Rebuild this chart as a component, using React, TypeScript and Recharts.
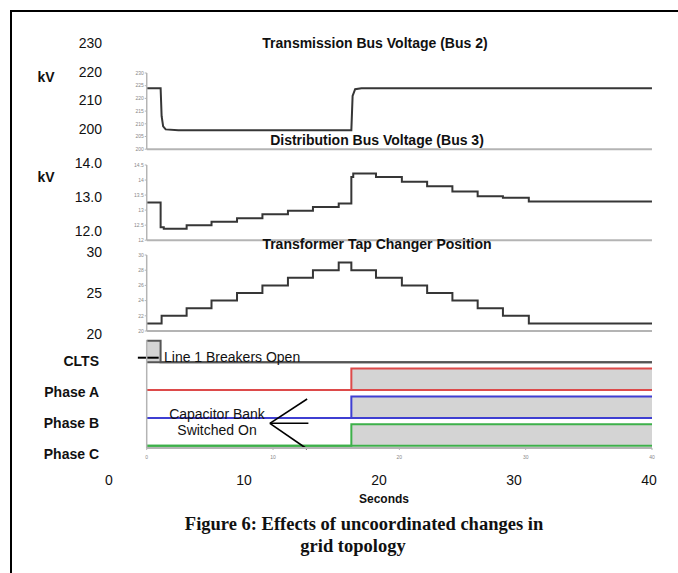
import React from 'react'
import { LineChart, Line, ComposedChart, Area, XAxis, YAxis, ReferenceLine } from 'recharts'

// time axis (seconds)
const timeTicks = [0, 10, 20, 30, 40]

// Transmission bus voltage (Bus 2), kV
const transTime = [0, 1.1, 1.18, 1.3, 1.5, 2.5, 16.2, 16.3, 16.5, 17, 40]
const transKv = [224, 224, 213, 209, 207.8, 207.5, 207.5, 221, 223.6, 224, 224]

// Distribution bus voltage (Bus 3), kV - each value holds until the next time
const distTime = [0, 1.1, 1.35, 3.16, 5.13, 7.15, 9.16, 11.18, 13.16, 15.2, 16.2, 16.35, 18.15, 20.2, 22.2, 24.2, 26.2, 28.2, 30.25, 40]
const distKv = [13.25, 12.43, 12.38, 12.5, 12.61, 12.73, 12.86, 12.98, 13.1, 13.22, 14.1, 14.22, 14.1, 13.94, 13.79, 13.62, 13.46, 13.41, 13.29, 13.29]

// Transformer tap changer position
const tapTime = [0, 1.18, 3.16, 5.13, 7.15, 9.16, 11.18, 13.16, 15.2, 16.2, 18.15, 20.2, 22.2, 24.2, 26.2, 28.2, 30.25, 40]
const tapPos = [21, 22, 23, 24, 25, 26, 27, 28, 29, 28, 27, 26, 25, 24, 23, 22, 21, 21]

// switching states (1 = on)
const switchTime = [0, 1.1, 16.2, 40]
const cltsState = [1, 0, 0, 0]
const phaseAState = [0, 0, 1, 1]
const phaseBState = [0, 0, 1, 1]
const phaseCState = [0, 0, 1, 1]

// tick labels
const transTicks = [200, 205, 210, 215, 220, 225, 230]
const distTicks = [12, 12.5, 13, 13.5, 14, 14.5]
const tapTicks = [20, 22, 24, 26, 28, 30]
const outerTransTicks = [200, 210, 220, 230]
const outerDistTicks = [12, 13, 14]
const outerTapTicks = [20, 25, 30]
const laneLabels = ['CLTS', 'Phase A', 'Phase B', 'Phase C']

const W = 678
const H = 573
const PLOT_LEFT = 146.7
const PLOT_RIGHT = 652
const SANS = '"Liberation Sans", Arial, Helvetica, sans-serif'
const SERIF = '"Liberation Serif", "Times New Roman", serif'
const traceColor = '#363636'
const axisGray = '#b4b4b4'
const tinyTick = { fontSize: 5, fill: '#888' }
const labelTick = { fontSize: 14, fill: '#111' }

const transData = transTime.map((t, i) => ({ t, v: transKv[i] }))
const distData = distTime.map((t, i) => ({ t, v: distKv[i] }))
const tapData = tapTime.map((t, i) => ({ t, v: tapPos[i] }))

// lanes of the switching panel, bottom to top: C, B, A, CLTS
const LANE_BASE = 2.3
const LANE_STEP = 27.8
const LANE_AMP = 21.5
const lane = (i: number, on: number) => [LANE_BASE + LANE_STEP * i, LANE_BASE + LANE_STEP * i + LANE_AMP * on]
const switchData = switchTime.map((t, k) => ({
  t,
  c: lane(0, phaseCState[k]),
  b: lane(1, phaseBState[k]),
  a: lane(2, phaseAState[k]),
  clts: lane(3, cltsState[k]),
}))

function Box({ top, height, children }: { top: number; height: number; children: React.ReactNode }) {
  return <div style={{ position: 'absolute', left: 0, top, width: W, height }}>{children}</div>
}

type PanelProps = { top: number; height: number; data: any[]; domain: [number, number]; ticks: number[]; curve: 'linear' | 'stepAfter' }

function TracePanel({ top, height, data, domain, ticks, curve }: PanelProps) {
  const pad = 4
  const axisH = 6
  return (
    <Box top={top - pad} height={height + pad + axisH}>
      <LineChart width={W} height={height + pad + axisH} data={data} margin={{ top: pad, right: W - PLOT_RIGHT, bottom: 0, left: 0 }}>
        <XAxis type="number" dataKey="t" domain={[0, 40]} ticks={timeTicks} height={axisH} axisLine={{ stroke: axisGray, strokeWidth: 2 }} tickLine={{ stroke: axisGray }} tickSize={-3} tick={false} />
        <YAxis type="number" domain={domain} ticks={ticks} width={PLOT_LEFT} interval={0} axisLine={{ stroke: axisGray, strokeWidth: 1.5 }} tickLine={{ stroke: axisGray }} tickSize={2} tickMargin={1} tick={tinyTick} />
        <Line dataKey="v" type={curve} stroke={traceColor} strokeWidth={2} dot={false} activeDot={false} isAnimationActive={false} />
      </LineChart>
    </Box>
  )
}

function OuterScale({ top, height, domain, ticks, digits }: { top: number; height: number; domain: [number, number]; ticks: number[]; digits: number }) {
  return (
    <Box top={top - 10} height={height + 20}>
      <LineChart width={104} height={height + 20} data={ticks.map((v) => ({ v }))} margin={{ top: 10, right: 1, bottom: 10, left: 0 }}>
        <YAxis type="number" dataKey="v" domain={domain} ticks={ticks} width={102} interval={0} axisLine={false} tickLine={false} tickSize={0} tickMargin={0} tick={labelTick} tickFormatter={(v: number) => v.toFixed(digits)} />
      </LineChart>
    </Box>
  )
}

function SwitchPanel() {
  const pad = 2
  const axisH = 14
  const plotH = 108
  const phases = [
    { key: 'a', color: '#dd4a4a' },
    { key: 'b', color: '#3f3fd2' },
    { key: 'c', color: '#3db04a' },
  ]
  return (
    <Box top={340 - pad} height={plotH + pad + axisH}>
      <ComposedChart width={W} height={plotH + pad + axisH} data={switchData} margin={{ top: pad, right: W - PLOT_RIGHT, bottom: 0, left: 0 }}>
        <XAxis type="number" dataKey="t" domain={[0, 40]} ticks={timeTicks} height={axisH} axisLine={{ stroke: axisGray, strokeWidth: 2 }} tickLine={{ stroke: axisGray }} tickSize={2} tickMargin={5} interval={0} tick={tinyTick} />
        <YAxis type="number" domain={[0, plotH]} width={PLOT_LEFT} axisLine={{ stroke: axisGray, strokeWidth: 1.5 }} tickLine={false} tick={false} />
        <Area dataKey="clts" type="stepAfter" stroke="#555" strokeWidth={2} fill="#d4d4d4" fillOpacity={1} dot={false} activeDot={false} isAnimationActive={false} />
        {phases.map((p) => (
          <Area key={p.key} dataKey={p.key} type="stepAfter" stroke={p.color} strokeWidth={2} fill="#d4d4d4" fillOpacity={1} dot={false} activeDot={false} isAnimationActive={false} />
        ))}
        {/* "Line 1 Breakers Open" pointer */}
        <ReferenceLine segment={[{ x: -0.7, y: 90.3 }, { x: 0.95, y: 90.3 }]} stroke="#000" strokeWidth={2} ifOverflow="visible" />
        {/* capacitor bank arrow */}
        <ReferenceLine segment={[{ x: 9.75, y: 24.7 }, { x: 12.7, y: 49 }]} stroke="#000" strokeWidth={1.6} ifOverflow="visible" />
        <ReferenceLine segment={[{ x: 9.75, y: 24.7 }, { x: 12.7, y: -1 }]} stroke="#000" strokeWidth={1.6} ifOverflow="visible" />
        <ReferenceLine segment={[{ x: 9.75, y: 24.7 }, { x: 12.8, y: 24.7 }]} stroke="#000" strokeWidth={1.6} ifOverflow="visible" />
      </ComposedChart>
    </Box>
  )
}

function LaneLabels() {
  const top = 345.5
  const height = 124
  const band = height / laneLabels.length
  return (
    <Box top={top} height={height}>
      <LineChart layout="vertical" width={101} height={height} data={laneLabels.map((name) => ({ name }))} margin={{ top: 0, right: 1, bottom: 0, left: 0 }}>
        <XAxis type="number" domain={[0, 1]} hide />
        <YAxis type="category" dataKey="name" width={99} interval={0} padding={{ top: band / 2, bottom: band / 2 }} axisLine={false} tickLine={false} tickSize={0} tickMargin={0} tick={{ ...labelTick, fontWeight: 700 }} />
      </LineChart>
    </Box>
  )
}

function OuterTime() {
  const pad = 10
  return (
    <Box top={474 - pad} height={pad + 24}>
      <LineChart width={W} height={pad + 24} data={timeTicks.map((t) => ({ t }))} margin={{ top: pad, right: W - 649, bottom: 0, left: 109 }}>
        <XAxis type="number" dataKey="t" domain={[0, 40]} ticks={timeTicks} height={23} interval={0} axisLine={false} tickLine={false} tickSize={0} tickMargin={0} tick={labelTick} />
      </LineChart>
    </Box>
  )
}

export default function App() {
  const bold = { fontFamily: SANS, fontWeight: 700, fontSize: 14, fill: '#111' }
  const plain = { fontFamily: SANS, fontSize: 14, fill: '#111' }
  const caption = { fontFamily: SERIF, fontWeight: 700, fontSize: 18.5, fill: '#111' }
  return (
    <div style={{ position: 'absolute', left: 0, top: 0, width: W, height: H, overflow: 'hidden', background: '#fff', fontFamily: SANS }}>
      <TracePanel top={73.3} height={76.2} data={transData} domain={[200, 230]} ticks={transTicks} curve="linear" />
      <TracePanel top={165.3} height={75.2} data={distData} domain={[12, 14.5]} ticks={distTicks} curve="stepAfter" />
      <TracePanel top={255} height={76} data={tapData} domain={[20, 30]} ticks={tapTicks} curve="stepAfter" />
      <SwitchPanel />

      <OuterScale top={42.7} height={85.6} domain={[200, 230]} ticks={outerTransTicks} digits={0} />
      <OuterScale top={162.7} height={68} domain={[12, 14]} ticks={outerDistTicks} digits={1} />
      <OuterScale top={252.3} height={82} domain={[20, 30]} ticks={outerTapTicks} digits={0} />
      <LaneLabels />
      <OuterTime />

      <svg width={W} height={H} style={{ position: 'absolute', left: 0, top: 0, pointerEvents: 'none' }}>
        <line x1={10} y1={11} x2={W} y2={11} stroke="#000" strokeWidth={2} />
        <line x1={11} y1={10} x2={11} y2={H} stroke="#000" strokeWidth={2} />

        <text x={375} y={43} textAnchor="middle" dominantBaseline="central" style={bold}>Transmission Bus Voltage (Bus 2)</text>
        <text x={377} y={140} textAnchor="middle" dominantBaseline="central" style={bold}>Distribution Bus Voltage (Bus 3)</text>
        <text x={377} y={244.3} textAnchor="middle" dominantBaseline="central" style={bold}>Transformer Tap Changer Position</text>

        <text x={46} y={77.3} textAnchor="middle" dominantBaseline="central" style={bold}>kV</text>
        <text x={46} y={176.7} textAnchor="middle" dominantBaseline="central" style={bold}>kV</text>

        <text x={164} y={356.7} dominantBaseline="central" style={plain}>Line 1 Breakers Open</text>
        <text x={217} y={414} textAnchor="middle" dominantBaseline="central" style={plain}>Capacitor Bank</text>
        <text x={217} y={429.5} textAnchor="middle" dominantBaseline="central" style={plain}>Switched On</text>

        <text x={384} y={499} textAnchor="middle" dominantBaseline="central" style={{ ...bold, fontSize: 12 }}>Seconds</text>

        <text x={364} y={523.5} textAnchor="middle" dominantBaseline="central" style={caption}>Figure 6: Effects of uncoordinated changes in</text>
        <text x={353} y={546} textAnchor="middle" dominantBaseline="central" style={caption}>grid topology</text>
      </svg>
    </div>
  )
}
